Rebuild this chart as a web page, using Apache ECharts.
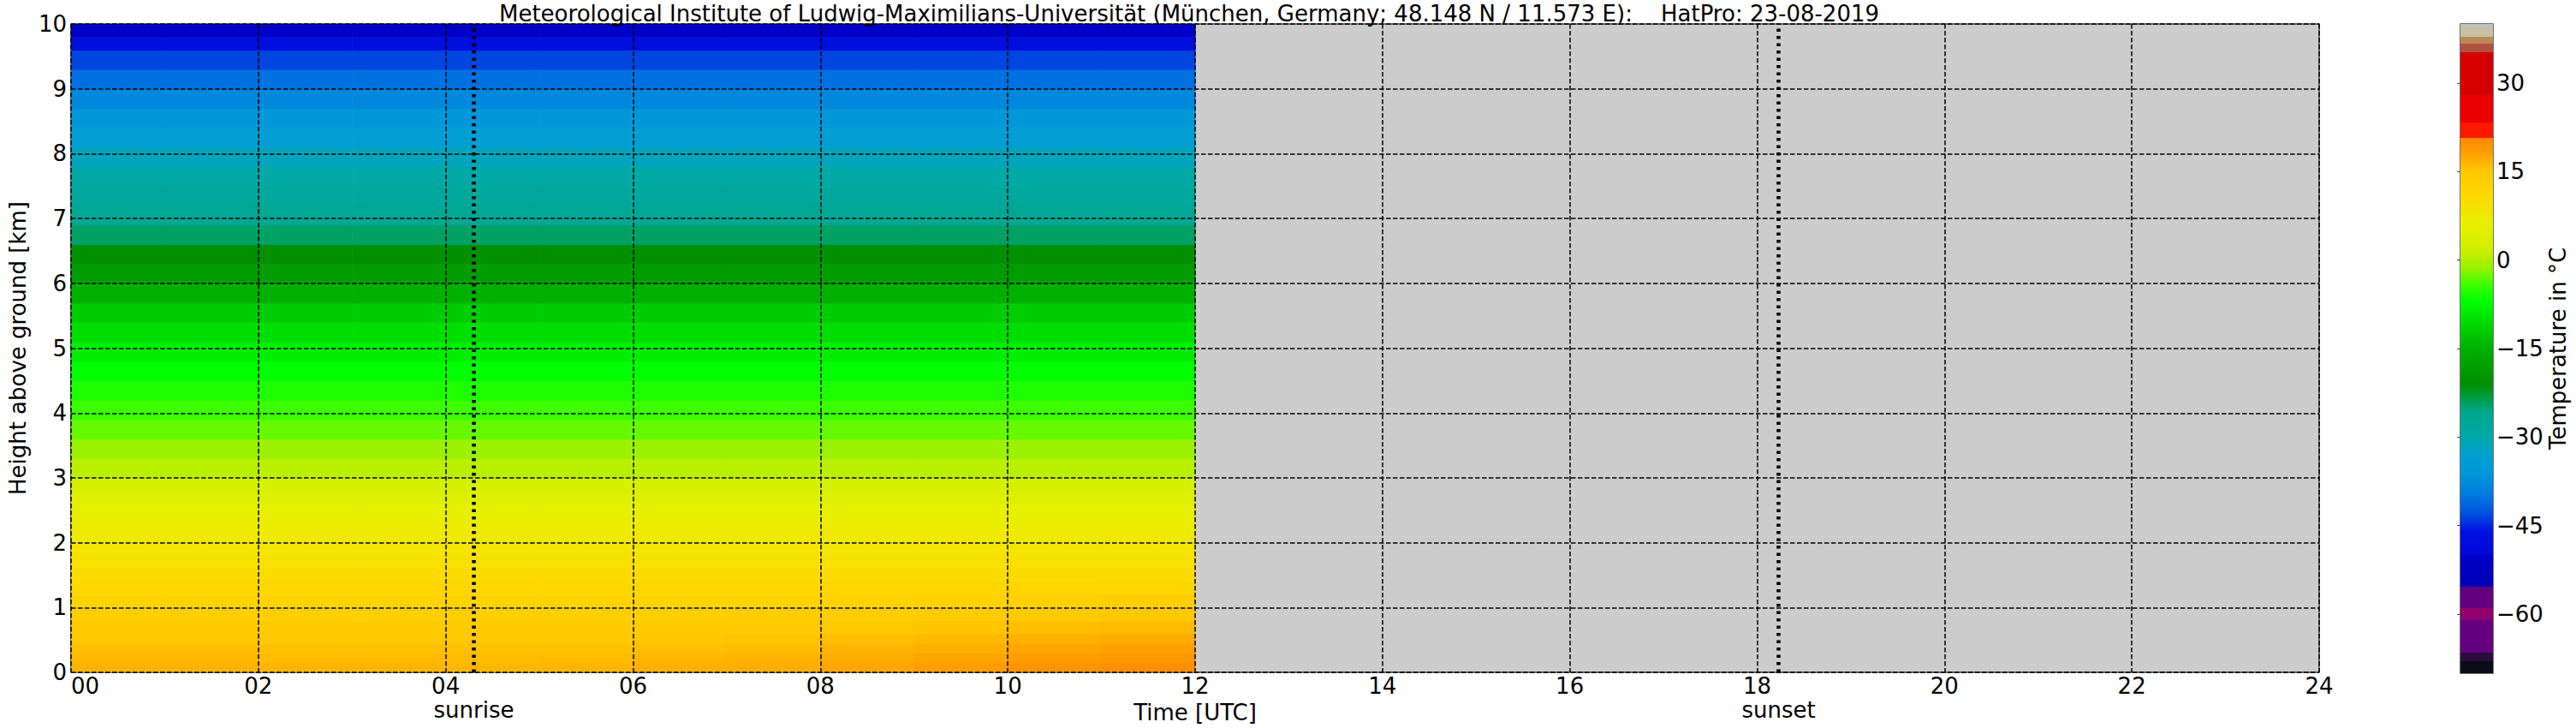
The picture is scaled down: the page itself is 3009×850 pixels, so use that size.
<!DOCTYPE html>
<html><head><meta charset="utf-8">
<script src="https://cdn.jsdelivr.net/npm/echarts@6.0.0/dist/echarts.min.js"></script>
<style>html,body{margin:0;padding:0;background:#fff}#c{width:3009px;height:850px}</style>
</head><body><div id="c"></div>
<script>
// ---------------- DATA ----------------
const titleText = 'Meteorological Institute of Ludwig-Maximilians-Universität (München, Germany; 48.148 N / 11.573 E):    HatPro: 23-08-2019';
const xTickHours = [0,2,4,6,8,10,12,14,16,18,20,22,24];
const yTickKm = [0,1,2,3,4,5,6,7,8,9,10];
const cbTicks = [-60,-45,-30,-15,0,15,30];
const sunrise = 4.3;   // UTC hours
const sunset = 18.23;  // UTC hours

// time block edges (hours, data available 00-12 UTC)
const hourEdges = [0,1,2,3,4,5,6,7,8,9,10,11,12];
// height cell edges (km)
const heightEdges = [0,0.15,0.3,0.45,0.6,0.8,1.0,1.2,1.4,1.6,1.8,2.0,2.2,2.4,2.6,2.8,3.0,3.3,3.6,3.9,4.2,4.5,4.8,5.1,5.4,5.7,6.0,6.3,6.6,6.9,7.2,7.5,7.8,8.1,8.4,8.7,9.0,9.3,9.6,9.8,10.0];
// representative temperature profile (deg C) for each height cell
const profile = [16.6,16.2,15.6,15.0,14.2,13.2,12.2,11.2,10.3,9.4,8.5,7.6,6.6,5.6,4.4,2.8,0.6,-1.2,-2.8,-4.2,-5.6,-7.0,-8.6,-10.2,-12.0,-15.0,-18.5,-21.0,-24.5,-26.5,-28.0,-29.6,-31.5,-33.8,-36.0,-38.0,-40.5,-43.5,-47.0,-50.0];
// lowest 8 cells (0-1.4 km) per hourly block, showing the daytime warming
const t00 = [16.6,16.2,15.6,15.0,14.2,13.2,12.2,11.2];
const t01 = [16.6,16.2,15.6,15.0,14.2,13.2,12.2,11.2];
const t02 = [16.4,16.0,15.6,15.0,14.2,13.2,12.2,11.2];
const t03 = [16.4,16.0,15.5,15.0,14.2,13.2,12.2,11.2];
const t04 = [16.3,15.9,15.5,15.0,14.2,13.2,12.2,11.2];
const t05 = [16.5,16.0,15.5,15.0,14.2,13.2,12.2,11.2];
const t06 = [16.8,16.2,15.6,15.1,14.3,13.3,12.2,11.2];
const t07 = [17.0,16.5,15.9,15.3,14.4,13.4,12.3,11.3];
const t08 = [17.6,17.0,16.4,15.7,14.8,13.7,12.5,11.4];
const t09 = [18.3,17.6,16.9,16.1,15.2,14.0,12.8,11.6];
const t10 = [19.3,18.5,17.6,16.7,15.7,14.5,13.1,11.8];
const t11 = [20.0,19.0,18.0,17.1,16.0,14.8,13.4,12.0];
const lowByHour = [t00,t01,t02,t03,t04,t05,t06,t07,t08,t09,t10,t11];

// colormap stops (temperature -> colour)
const cmapTemps  = [-70,-68,-68,-66.5,-66.5,-61,-61,-59,-59,-55.3,-55.3,-50,-49.8,-46,-43,-40,-36,-33,-30,-26,-21,-15,-10,-7,-4,-1,2,6,11,15,18,20.7,20.7,23.3,23.3,28,28,35.2,35.2,36.6,36.6,37.8,37.8,39.4,39.4,40];
const cmapColors = ['#0c0c18','#0c0c18','#2c0c40','#2c0c40','#640080','#640080','#900070','#900070','#640080','#640080','#0000b8','#0000c8','#0008d8','#0010e0','#0050e0','#0078e0','#0098d8','#00a0d0','#00a8a8','#00a890','#009000','#00b000','#00e000','#00ff00','#40ff00','#a0f000','#d0f000','#e8f000','#ffd800','#ffc800','#ffa000','#ff8800','#ff1800','#ff1800','#ec0000','#ec0000','#d40000','#d40000','#b05040','#b05040','#b88858','#b88858','#c8c0a0','#c8c0a0','#c0c0c0','#c0c0c0'];
const cbMin = -70, cbMax = 40;

// ---------------- HELPERS ----------------
function hex2rgb(h){return [parseInt(h.substr(1,2),16),parseInt(h.substr(3,2),16),parseInt(h.substr(5,2),16)];}
function tempColor(t){
  if (t <= cmapTemps[0]) return cmapColors[0];
  for (let i=1;i<cmapTemps.length;i++){
    if (t <= cmapTemps[i]){
      const a=cmapTemps[i-1], b=cmapTemps[i];
      const f = b>a ? (t-a)/(b-a) : 1;
      const c0=hex2rgb(cmapColors[i-1]), c1=hex2rgb(cmapColors[i]);
      const c=c0.map((v,k)=>Math.round(v+(c1[k]-v)*f));
      return 'rgb('+c.join(',')+')';
    }
  }
  return cmapColors[cmapColors.length-1];
}
const heatData = [];
for (let i=0;i<hourEdges.length-1;i++){
  const low = lowByHour[i];
  for (let j=0;j<heightEdges.length-1;j++){
    const t = j < low.length ? low[j] : profile[j];
    heatData.push([hourEdges[i],hourEdges[i+1],heightEdges[j],heightEdges[j+1],t]);
  }
}
const gradStops = cmapTemps.map((t,i)=>({offset:(t-cbMin)/(cbMax-cbMin), color:cmapColors[i]}));

const FONT = '"DejaVu Sans", sans-serif';
const FS = 26;
const pad2 = v => (v<10?'0':'')+v;
const minusFmt = v => v<0 ? '\u2212'+Math.abs(v) : String(v);

const chart = echarts.init(document.getElementById('c'), null, {renderer:'svg'});
const dashed = {color:'#000', width:1.5, type:[5.5,2.5]};
chart.setOption({
  animation:false,
  backgroundColor:'#fff',
  title:{text:titleText, left:1389, top:3, padding:0, textAlign:'center',
    textStyle:{fontFamily:FONT, fontSize:FS, lineHeight:FS, fontWeight:'normal', color:'#000'}},
  grid:[
    {left:72, top:28, width:2637, height:759, show:true, backgroundColor:'#cccccc', borderColor:'#444', borderWidth:1.5, containLabel:false},
    {left:2874, top:28, width:38, height:758, show:true, backgroundColor:'transparent', borderColor:'#444', borderWidth:1.5, containLabel:false}
  ],
  xAxis:[
    {type:'value', gridIndex:0, min:0, max:24, interval:2, z:10,
     name:'Time [UTC]', nameLocation:'middle', nameGap:30,
     nameTextStyle:{fontFamily:FONT, fontSize:FS, color:'#000', verticalAlign:'top'},
     axisLine:{show:false}, axisTick:{show:false},
     axisLabel:{formatter:v=>pad2(v), fontFamily:FONT, fontSize:FS, color:'#000', margin:3, alignMinLabel:'left'},
     splitLine:{show:true, lineStyle:dashed}},
    {type:'value', gridIndex:1, min:0, max:1, show:false}
  ],
  yAxis:[
    {type:'value', gridIndex:0, min:0, max:10, interval:1, z:10,
     name:'Height above ground [km]', nameLocation:'middle', nameGap:40, nameRotate:90,
     nameTextStyle:{fontFamily:FONT, fontSize:FS, color:'#000'},
     axisLine:{show:false}, axisTick:{show:false},
     axisLabel:{fontFamily:FONT, fontSize:FS, color:'#000', margin:5},
     splitLine:{show:true, lineStyle:dashed}},
    {type:'value', gridIndex:1, min:cbMin, max:cbMax, position:'right', z:10,
     name:'Temperature in \u00b0C', nameLocation:'middle', nameGap:62, nameRotate:90,
     nameTextStyle:{fontFamily:FONT, fontSize:FS, color:'#000'},
     axisLine:{show:false},
     axisTick:{show:true, inside:true, length:4, customValues:cbTicks, lineStyle:{color:'#444'}},
     axisLabel:{customValues:cbTicks, formatter:minusFmt, fontFamily:FONT, fontSize:FS, color:'#000', margin:4},
     splitLine:{show:false}}
  ],
  series:[
    {type:'custom', name:'Temperature', xAxisIndex:0, yAxisIndex:0, clip:true, z:2,
     encode:{x:[0,1], y:[2,3]},
     data:heatData,
     renderItem:function(params, api){
       const p0 = api.coord([api.value(0), api.value(2)]);
       const p1 = api.coord([api.value(1), api.value(3)]);
       return {type:'rect', shape:{x:p0[0], y:p1[1], width:p1[0]-p0[0]+0.6, height:p0[1]-p1[1]+0.6},
               style:{fill:tempColor(api.value(4))}};
     },
     markLine:{silent:true, symbol:'none', z:11,
       lineStyle:{color:'#000', width:4.5, type:[3.5,5]},
       label:{show:true, position:'start', distance:31, fontFamily:FONT, fontSize:FS, color:'#000',
              formatter:p=>p.name},
       data:[{name:'sunrise', xAxis:sunrise},{name:'sunset', xAxis:sunset}]}
    },
    {type:'custom', name:'colorbar', xAxisIndex:1, yAxisIndex:1, z:2,
     encode:{x:[0,1], y:[2,3]},
     data:[[0,1,cbMin,cbMax]],
     renderItem:function(params, api){
       const p0 = api.coord([api.value(0), api.value(2)]);
       const p1 = api.coord([api.value(1), api.value(3)]);
       return {type:'rect', shape:{x:p0[0], y:p1[1], width:p1[0]-p0[0], height:p0[1]-p1[1]},
               style:{fill:{type:'linear', x:0, y:1, x2:0, y2:0, colorStops:gradStops}}};
     }}
  ]
});
</script></body></html>
